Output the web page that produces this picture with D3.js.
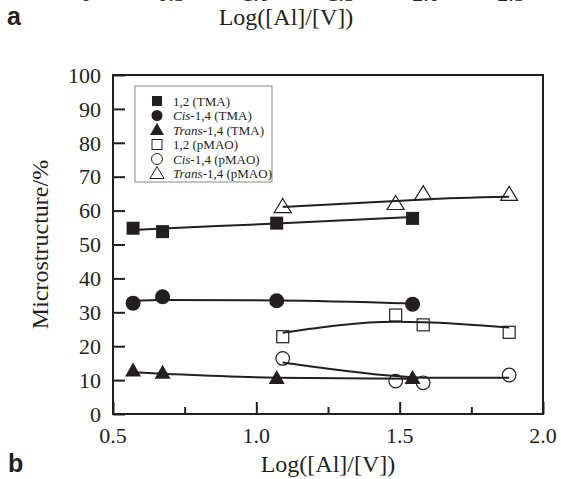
<!DOCTYPE html>
<html>
<head>
<meta charset="utf-8">
<script src="https://cdn.jsdelivr.net/npm/d3@7"></script>
<style>
  body { margin: 0; background: #fff; }
  svg { display: block; }
  text { font-family: "Liberation Serif", "Times New Roman", serif; fill: #231f20; }
  .panel { font-family: "Liberation Sans", Arial, sans-serif; font-weight: bold; }
</style>
</head>
<body>
<script>
// data (x = Log([Al]/[V]), y = microstructure %)
const tmaX = [0.57, 0.673, 1.071, 1.545];
const tma12 = [54.8, 53.8, 56.3, 57.7];
const tmaCis = [32.7, 34.6, 33.4, 32.4];
const tmaTrans = [12.6, 12.0, 10.4, 10.4];

const pmaoX = [1.092, 1.486, 1.582, 1.882];
const pmao12 = [22.8, 29.2, 26.3, 24.1];
const pmaoCis = [16.4, 9.7, 9.2, 11.5];
const pmaoTrans = [61.0, 61.9, 64.8, 64.6];

// smoothed trend lines, read at the same x values
const tma12Trend = [54.3, 54.7, 56.2, 58.1];
const tmaCisTrend = [33.3, 33.6, 33.5, 32.6];
const tmaTransTrend = [12.3, 11.9, 10.7, 10.4];
const pmao12Trend = [24.0, 27.2, 27.1, 25.5];
const pmaoCisTrend = [15.2, 11.2, 10.7, 10.7];
const pmaoTransTrend = [61.1, 62.8, 63.3, 64.1];

const seriesNames = ['1,2 (TMA)', 'Cis-1,4 (TMA)', 'Trans-1,4 (TMA)',
                     '1,2 (pMAO)', 'Cis-1,4 (pMAO)', 'Trans-1,4 (pMAO)'];
const xTicks = [0.5, 1.0, 1.5, 2.0];
const xMinorTicks = [0.75, 1.25, 1.75];
const yTicks = [0, 10, 20, 30, 40, 50, 60, 70, 80, 90, 100];
const topPanelTicks = ['0', '0.5', '1.0', '1.5', '2.0', '2.5'];

const width = 561, height = 479;
const margins = {top: 75, right: 18, bottom: 65, left: 113};
const ink = '#231f20';

const series = [
    {name: seriesNames[0], x: tmaX, y: tma12, trend: tma12Trend, shape: 'square', filled: true},
    {name: seriesNames[1], x: tmaX, y: tmaCis, trend: tmaCisTrend, shape: 'circle', filled: true},
    {name: seriesNames[2], x: tmaX, y: tmaTrans, trend: tmaTransTrend, shape: 'triangle', filled: true},
    {name: seriesNames[3], x: pmaoX, y: pmao12, trend: pmao12Trend, shape: 'square', filled: false},
    {name: seriesNames[4], x: pmaoX, y: pmaoCis, trend: pmaoCisTrend, shape: 'circle', filled: false},
    {name: seriesNames[5], x: pmaoX, y: pmaoTrans, trend: pmaoTransTrend, shape: 'triangle', filled: false}
];

const svg = d3.select('body').append('svg')
    .attr('width', width)
    .attr('height', height);

// remains of panel a above
const topScale = d3.scaleLinear().domain([0, 5]).range([86, 511]);
svg.selectAll('text.topTick')
    .data(topPanelTicks)
    .enter().append('text')
    .attr('x', (d, i) => topScale(i))
    .attr('y', 1)
    .attr('text-anchor', 'middle')
    .style('font-size', '22px')
    .text(d => d);
svg.append('text')
    .attr('x', 286).attr('y', 25)
    .attr('text-anchor', 'middle')
    .style('font-size', '24px')
    .text('Log([Al]/[V])');
svg.append('text').classed('panel', true)
    .attr('x', 7).attr('y', 25)
    .style('font-size', '25px')
    .text('a');
svg.append('text').classed('panel', true)
    .attr('x', 8).attr('y', 472)
    .style('font-size', '25px')
    .text('b');

const innerW = width - margins.left - margins.right,
      innerH = height - margins.top - margins.bottom;

const chart = svg.append('g')
    .attr('transform', `translate(${margins.left},${margins.top})`);

const xScale = d3.scaleLinear().domain([0.5, 2.0]).range([0, innerW]);
const yScale = d3.scaleLinear().domain([0, 100]).range([innerH, 0]);

// frame
chart.append('rect')
    .attr('width', innerW).attr('height', innerH)
    .attr('fill', 'none').attr('stroke', ink).attr('stroke-width', 2);

// axes with inward ticks
const xAxis = chart.append('g')
    .attr('transform', `translate(0,${innerH})`)
    .call(d3.axisTop(xScale).tickValues(xTicks).tickSize(12).tickFormat(''));
xAxis.call(g => g.select('.domain').remove());
xAxis.selectAll('line').attr('stroke', ink).attr('stroke-width', 2);
const xMinor = chart.append('g')
    .attr('transform', `translate(0,${innerH})`)
    .call(d3.axisTop(xScale).tickValues(xMinorTicks).tickSize(7).tickFormat(''));
xMinor.call(g => g.select('.domain').remove());
xMinor.selectAll('line').attr('stroke', ink).attr('stroke-width', 2);

chart.selectAll('text.xLabel')
    .data(xTicks)
    .enter().append('text')
    .attr('x', d => xScale(d))
    .attr('y', innerH + 29)
    .attr('text-anchor', 'middle')
    .style('font-size', '22px')
    .text(d => d.toFixed(1));

const yAxis = chart.append('g')
    .call(d3.axisRight(yScale).tickValues(yTicks).tickSize(12).tickFormat(''));
yAxis.call(g => g.select('.domain').remove());
yAxis.selectAll('line').attr('stroke', ink).attr('stroke-width', 2);

chart.selectAll('text.yLabel')
    .data(yTicks)
    .enter().append('text')
    .attr('x', -12)
    .attr('y', d => yScale(d))
    .attr('dy', '0.35em')
    .attr('text-anchor', 'end')
    .style('font-size', '22px')
    .text(d => d);

chart.append('text')
    .attr('x', innerW / 2).attr('y', innerH + 58)
    .attr('text-anchor', 'middle')
    .style('font-size', '24px')
    .text('Log([Al]/[V])');

chart.append('text')
    .attr('transform', `translate(${-65},${innerH / 2}) rotate(-90)`)
    .attr('text-anchor', 'middle')
    .style('font-size', '24px')
    .text('Microstructure/%');

// trend lines
const line = d3.line()
    .x(d => xScale(d[0]))
    .y(d => yScale(d[1]))
    .curve(d3.curveMonotoneX);
series.forEach(s => {
    chart.append('path')
        .attr('d', line(s.x.map((x, i) => [x, s.trend[i]])))
        .attr('fill', 'none')
        .attr('stroke', ink)
        .attr('stroke-width', 2);
});

function symbol(g, shape, filled){
    let el;
    if(shape === 'square'){
        let a = filled ? 13 : 12;
        el = g.append('rect').attr('x', -a / 2).attr('y', -a / 2).attr('width', a).attr('height', a);
    } else if(shape === 'circle'){
        el = g.append('circle').attr('r', filled ? 7.5 : 6.8);
    } else {
        let w = filled ? 16 : 17, h = 14;
        el = g.append('path').attr('d', `M0,${-h * 0.62}L${w / 2},${h * 0.38}L${-w / 2},${h * 0.38}Z`);
    }
    if(filled) el.attr('fill', ink).attr('stroke', 'none');
    else el.attr('fill', 'white').attr('fill-opacity', 0).attr('stroke', ink).attr('stroke-width', 1.2);
    return el;
}

function symbolSmall(g, shape, filled){
    let el;
    if(shape === 'square'){
        el = g.append('rect').attr('x', -5).attr('y', -5).attr('width', 10).attr('height', 10);
    } else if(shape === 'circle'){
        el = g.append('circle').attr('r', 5.5);
    } else {
        el = g.append('path').attr('d', 'M0,-7L7,5L-7,5Z');
    }
    if(filled) el.attr('fill', ink).attr('stroke', 'none');
    else el.attr('fill', 'white').attr('stroke', ink).attr('stroke-width', 1);
}

// markers
series.forEach(s => {
    chart.selectAll(null)
        .data(s.x.map((x, i) => [x, s.y[i]]))
        .enter().append('g')
        .attr('transform', d => `translate(${xScale(d[0])},${yScale(d[1])})`)
        .each(function(){ symbol(d3.select(this), s.shape, s.filled); });
});

// legend
const legend = chart.append('g').attr('transform', 'translate(22,11)');
legend.append('rect')
    .attr('width', 137).attr('height', 96)
    .attr('fill', 'white').attr('stroke', '#8a8788').attr('stroke-width', 1);
series.forEach((s, i) => {
    let row = legend.append('g').attr('transform', `translate(22,${15 + i * 14.5})`);
    symbolSmall(row, s.shape, s.filled);
    let t = row.append('text').attr('x', 16).attr('dy', '0.35em').style('font-size', '13px');
    let m = s.name.match(/^(Cis|Trans)(.*)$/);
    if(m){
        t.append('tspan').style('font-style', 'italic').text(m[1]);
        t.append('tspan').text(m[2]);
    } else {
        t.text(s.name);
    }
});
</script>
</body>
</html>
